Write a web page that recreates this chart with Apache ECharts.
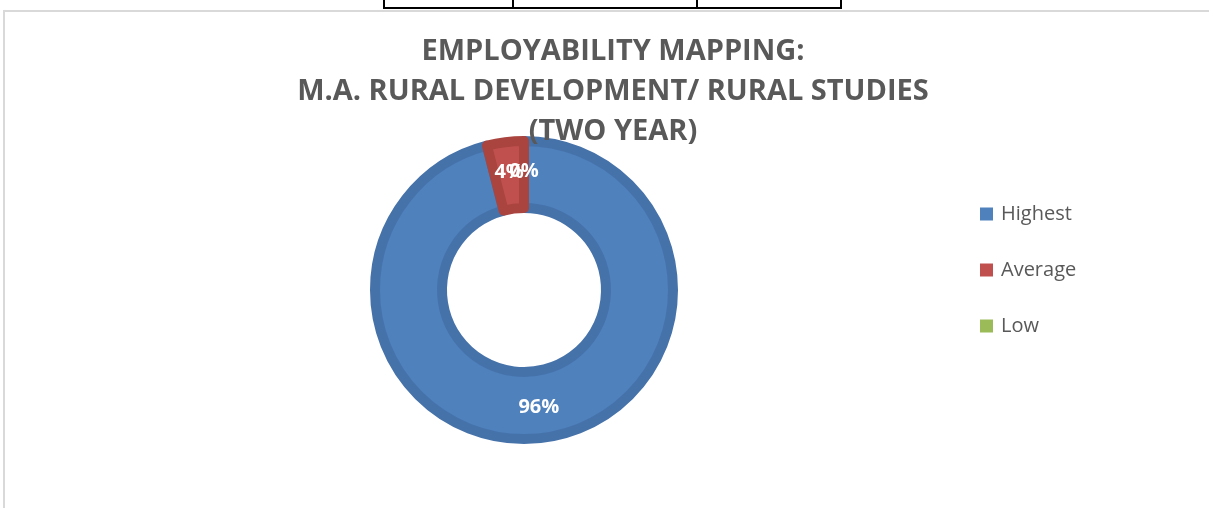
<!DOCTYPE html>
<html>
<head>
<meta charset="utf-8">
<script src="https://cdn.jsdelivr.net/npm/echarts@6/dist/echarts.min.js"></script>
<style>
  body { margin: 0; background: #fff; }
  #tbl { position: absolute; left: 383px; top: 0; width: 455px; height: 7px;
         border: 2px solid #000; border-top: none; }
  .col { position: absolute; top: 0; height: 7px; border-left: 2px solid #000; }
  #chart { position: absolute; left: 3px; top: 10px; width: 1206px; height: 498px;
           border-left: 2px solid #d9d9d9; border-top: 2px solid #d9d9d9; }
</style>
</head>
<body>
<div id="tbl"><div class="col" style="left:127px"></div><div class="col" style="left:311px"></div></div>
<div id="chart"></div>
<script>
var categories = ['Highest', 'Average', 'Low'];
var values = [96, 4, 0];
var fillColors = ['#4f81bd', '#c0504d', '#9bbb59'];
var edgeColors = ['#4672aa', '#a9443f', '#8aa74f'];

function addDonut(id, title) {
    var myChart = echarts.init(document.getElementById(id));
    var pieData = categories.map(function (name, i) {
        return {
            name: name,
            value: values[i],
            // an empty slice shows no outline at all
            itemStyle: { color: fillColors[i], borderColor: edgeColors[i], borderWidth: values[i] > 0 ? 10 : 0 }
        };
    });
    var option = {
        title: {
            text: title,
            left: 603,
            textAlign: 'center',
            top: 15,
            textStyle: {
                color: '#595959',
                fontFamily: 'Open Sans',
                fontSize: 29,
                fontWeight: 'bold',
                lineHeight: 40
            }
        },
        legend: {
            orient: 'vertical',
            left: 970,
            top: 187,
            itemWidth: 13,
            itemHeight: 13,
            itemGap: 36,
            icon: 'rect',
            itemStyle: { borderWidth: 0 },
            textStyle: { color: '#595959', fontSize: 20, fontFamily: 'Open Sans', padding: [0, 0, 0, 3] },
            data: categories
        },
        series: [{
            type: 'pie',
            center: [519, 278],
            radius: [82, 149],
            startAngle: 90,
            clockwise: true,
            silent: true,
            minShowLabelAngle: -1,
            labelLayout: { hideOverlap: false },
            label: {
                show: true,
                position: 'inside',
                color: '#fff',
                fontSize: 20,
                fontWeight: 'bold',
                fontFamily: 'Open Sans',
                formatter: function (p) { return Math.round(p.percent) + '%'; }
            },
            labelLine: { show: false },
            data: pieData
        }]
    };
    myChart.setOption(option);
}

addDonut('chart', 'EMPLOYABILITY MAPPING:\nM.A. RURAL DEVELOPMENT/ RURAL STUDIES\n(TWO YEAR)');
</script>
</body>
</html>
